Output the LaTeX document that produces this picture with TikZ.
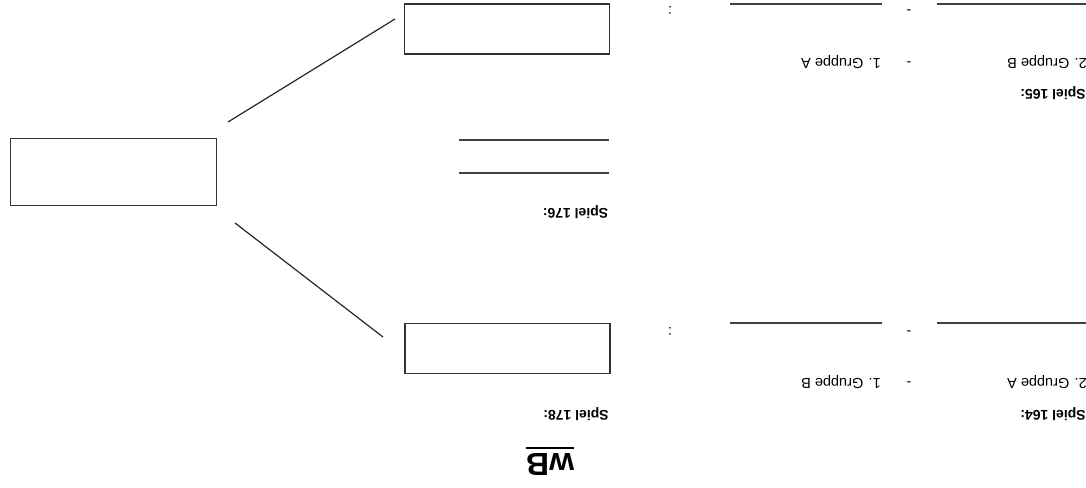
\documentclass[tikz,border=0pt]{standalone}
\usepackage{fontspec}
\setsansfont{Liberation Sans}
\usetikzlibrary{positioning}
\tikzset{
  slot/.style={draw=black!80, line width=1.5pt, inner sep=0pt},
  big slot/.style={slot, minimum width=206pt, minimum height=67pt},
  small slot/.style={slot, minimum width=205pt, minimum height=50pt},
  upside/.style={rotate=180, inner sep=0pt, anchor=base, font=\sffamily\fontsize{14.5}{16}\selectfont},
  game title/.style={upside, font=\sffamily\bfseries\fontsize{14}{16}\selectfont},
  score line/.style={draw=black!75, line width=1.4pt},
  branch/.style={draw=black!85, line width=1.2pt},
}

\begin{document}
\begin{tikzpicture}[x=1pt,y=-1pt]
\useasboundingbox (0,0) rectangle (1086,487);
% the boxes
\node [big slot] (final) at (113.5,172) {};
\node [small slot] (semiA) at (507,29) {};
\node [small slot] (semiB) at (507.5,348.5) {};
% free ends of the branches
\coordinate (finalNE) at (228,122);
\coordinate (semiAW) at (395,19);
\coordinate (finalSE) at (235,223);
\coordinate (semiBW) at (383,337);
\draw[branch] (finalNE) -- (semiAW);
\draw[branch] (finalSE) -- (semiBW);
% game 165
\node [game title] (g165) at (1053,89) {Spiel 165:};
\node [upside] (g165b) at (1047,58.5) {2. Gruppe B};
\node [upside] (g165d) at (909,58.5) {-};
\node [upside] (g165a) at (841,58.5) {1. Gruppe A};
\draw[score line] (937,4) -- (1086,4);
\draw[score line] (730,4) -- (882,4);
\node [upside] (g165s) at (909,7) {-};
\node [upside] (g165c) at (670,7) {:};
% game 164
\node [game title] (g164) at (1053,410) {Spiel 164:};
\node [upside] (g164a) at (1047,378) {2. Gruppe A};
\node [upside] (g164d) at (909,378) {-};
\node [upside] (g164b) at (841,378) {1. Gruppe B};
\draw[score line] (937,323) -- (1086,323);
\draw[score line] (730,323) -- (882,323);
\node [upside] (g164s) at (909,327) {-};
\node [upside] (g164c) at (670,327) {:};
% game 176
\node [game title] (g176) at (575.5,208.5) {Spiel 176:};
\draw[score line] (459,173) -- (609,173);
\draw[score line] (459,140) -- (609,140);
% game 178
\node [game title] (g178) at (576,410) {Spiel 178:};
\node [upside, font=\sffamily\bfseries\fontsize{32}{36}\selectfont] (wB) at (550,453) {wB};
\draw[line width=1.8pt] ([yshift=5pt]wB.south west) -- ([yshift=5pt]wB.south east);
\end{tikzpicture}
\end{document}
